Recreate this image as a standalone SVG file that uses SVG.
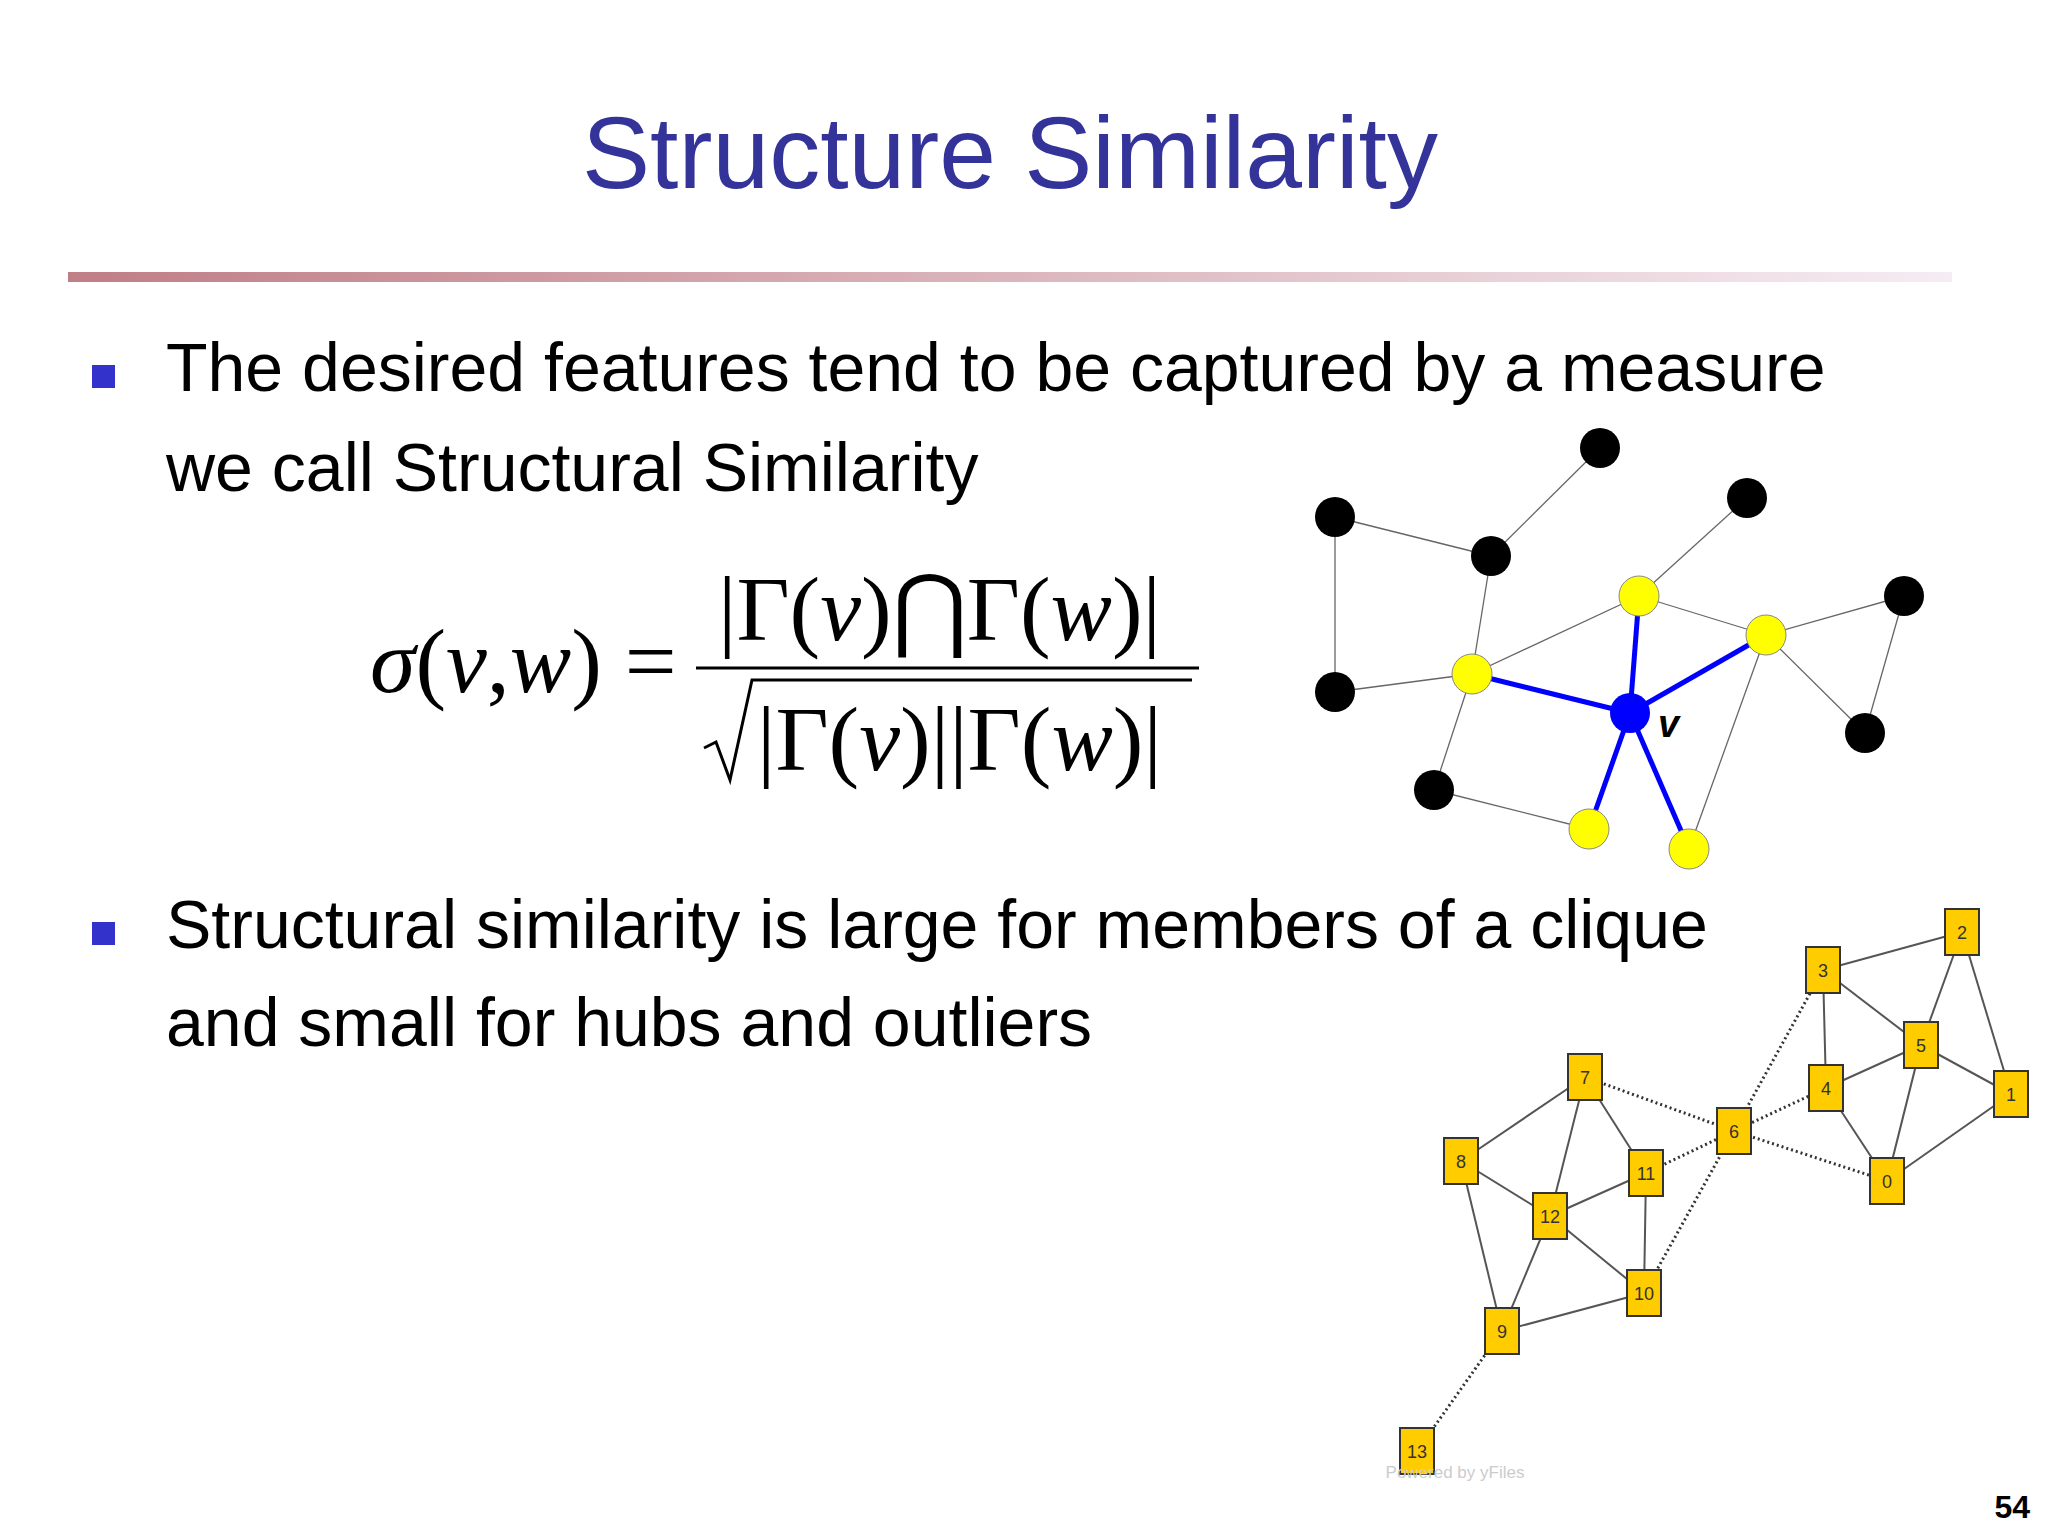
<svg xmlns="http://www.w3.org/2000/svg" width="2048" height="1536" viewBox="0 0 2048 1536">
<defs>
<linearGradient id="bar" x1="0" x2="1" y1="0" y2="0"><stop offset="0" stop-color="#c07e86"/><stop offset="1" stop-color="#f6ecf3"/></linearGradient>
<style>
.t{font-family:"Liberation Sans",Arial,sans-serif;fill:#000}
.m{font-family:"Liberation Serif","Times New Roman",serif;fill:#000;font-size:92px}
.e{stroke:#666;stroke-width:1.3;fill:none}
.b{stroke:#0000ff;stroke-width:5;fill:none}
.s{stroke:#555;stroke-width:2;fill:none}
.d{stroke:#333;stroke-width:3;stroke-dasharray:2 3;fill:none}
.k{fill:#000}
.y{fill:#ffff00;stroke:#888;stroke-width:1}
.q{fill:#ffcc00;stroke:#333;stroke-width:2}
.l{font-family:"Liberation Sans Narrow","Liberation Sans",sans-serif;font-size:18px;fill:#333;text-anchor:middle}
</style>
</defs>
<rect width="2048" height="1536" fill="#fff"/>
<text x="1010" y="188" text-anchor="middle" style="font-family:'Liberation Sans',Arial,sans-serif;font-size:102px;fill:#333399">Structure Similarity</text>
<rect x="68" y="272" width="1884" height="10" fill="url(#bar)"/>
<rect x="92" y="365" width="23" height="23" fill="#3333cc"/>
<text class="t" x="166" y="391" font-size="68">The desired features tend to be captured by a measure</text>
<text class="t" x="166" y="491" font-size="68">we call Structural Similarity</text>
<rect x="92" y="922" width="23" height="23" fill="#3333cc"/>
<text class="t" x="166" y="948" font-size="68">Structural similarity is large for members of a clique</text>
<text class="t" x="166" y="1046" font-size="68">and small for hubs and outliers</text>
<g id="formula">
<text class="m" x="370" y="692"><tspan font-style="italic">σ</tspan>(<tspan font-style="italic">v</tspan>,<tspan font-style="italic">w</tspan>) =</text>
<text class="m" x="718" y="640">|Γ(<tspan font-style="italic">v</tspan>)⋂Γ(<tspan font-style="italic">w</tspan>)|</text>
<line x1="696" y1="668" x2="1199" y2="668" stroke="#000" stroke-width="3"/>
<polyline points="704,748 716,742 730,780 752,680 1192,680" fill="none" stroke="#000" stroke-width="3"/>
<text class="m" x="757" y="770">|Γ(<tspan font-style="italic">v</tspan>)||Γ(<tspan font-style="italic">w</tspan>)|</text>
</g>
<g id="connectors-circles">
<line class="e" x1="1600" y1="448" x2="1491" y2="556"/>
<line class="e" x1="1335" y1="517" x2="1491" y2="556"/>
<line class="e" x1="1335" y1="517" x2="1335" y2="692"/>
<line class="e" x1="1491" y1="556" x2="1472" y2="674"/>
<line class="e" x1="1747" y1="498" x2="1639" y2="596"/>
<line class="e" x1="1639" y1="596" x2="1472" y2="674"/>
<line class="e" x1="1639" y1="596" x2="1766" y2="635"/>
<line class="e" x1="1766" y1="635" x2="1904" y2="596"/>
<line class="e" x1="1904" y1="596" x2="1865" y2="733"/>
<line class="e" x1="1766" y1="635" x2="1865" y2="733"/>
<line class="e" x1="1766" y1="635" x2="1689" y2="849"/>
<line class="e" x1="1472" y1="674" x2="1335" y2="692"/>
<line class="e" x1="1472" y1="674" x2="1434" y2="790"/>
<line class="e" x1="1434" y1="790" x2="1589" y2="829"/>
<line class="b" x1="1630" y1="713" x2="1472" y2="674"/>
<line class="b" x1="1630" y1="713" x2="1639" y2="596"/>
<line class="b" x1="1630" y1="713" x2="1766" y2="635"/>
<line class="b" x1="1630" y1="713" x2="1589" y2="829"/>
<line class="b" x1="1630" y1="713" x2="1689" y2="849"/>
</g>
<g id="c-A"><circle class="k" cx="1600" cy="448" r="20"/></g>
<g id="c-B"><circle class="k" cx="1335" cy="517" r="20"/></g>
<g id="c-C"><circle class="k" cx="1491" cy="556" r="20"/></g>
<g id="c-D"><circle class="k" cx="1747" cy="498" r="20"/></g>
<g id="c-E"><circle class="y" cx="1639" cy="596" r="20"/></g>
<g id="c-F"><circle class="y" cx="1766" cy="635" r="20"/></g>
<g id="c-G"><circle class="k" cx="1904" cy="596" r="20"/></g>
<g id="c-H"><circle class="k" cx="1335" cy="692" r="20"/></g>
<g id="c-I"><circle class="y" cx="1472" cy="674" r="20"/></g>
<g id="c-V"><circle cx="1630" cy="713" r="20" fill="#0000ff"/><text x="1658" y="737" style="font-family:'Liberation Sans',sans-serif;font-weight:bold;font-style:italic;font-size:38px">v</text></g>
<g id="c-J"><circle class="k" cx="1865" cy="733" r="20"/></g>
<g id="c-K"><circle class="k" cx="1434" cy="790" r="20"/></g>
<g id="c-L"><circle class="y" cx="1589" cy="829" r="20"/></g>
<g id="c-M"><circle class="y" cx="1689" cy="849" r="20"/></g>
<g id="connectors-squares">
<line class="s" x1="1823" y1="970" x2="1962" y2="932"/>
<line class="s" x1="1823" y1="970" x2="1921" y2="1045"/>
<line class="s" x1="1823" y1="970" x2="1826" y2="1088"/>
<line class="s" x1="1962" y1="932" x2="1921" y2="1045"/>
<line class="s" x1="1962" y1="932" x2="2011" y2="1094"/>
<line class="s" x1="1921" y1="1045" x2="1826" y2="1088"/>
<line class="s" x1="1921" y1="1045" x2="2011" y2="1094"/>
<line class="s" x1="1921" y1="1045" x2="1887" y2="1181"/>
<line class="s" x1="1826" y1="1088" x2="1887" y2="1181"/>
<line class="s" x1="1887" y1="1181" x2="2011" y2="1094"/>
<line class="s" x1="1585" y1="1077" x2="1461" y2="1161"/>
<line class="s" x1="1585" y1="1077" x2="1550" y2="1216"/>
<line class="s" x1="1585" y1="1077" x2="1646" y2="1173"/>
<line class="s" x1="1461" y1="1161" x2="1550" y2="1216"/>
<line class="s" x1="1461" y1="1161" x2="1502" y2="1331"/>
<line class="s" x1="1550" y1="1216" x2="1646" y2="1173"/>
<line class="s" x1="1550" y1="1216" x2="1644" y2="1293"/>
<line class="s" x1="1550" y1="1216" x2="1502" y2="1331"/>
<line class="s" x1="1646" y1="1173" x2="1644" y2="1293"/>
<line class="s" x1="1502" y1="1331" x2="1644" y2="1293"/>
<line class="d" x1="1585" y1="1077" x2="1734" y2="1131"/>
<line class="d" x1="1734" y1="1131" x2="1823" y2="970"/>
<line class="d" x1="1734" y1="1131" x2="1826" y2="1088"/>
<line class="d" x1="1734" y1="1131" x2="1887" y2="1181"/>
<line class="d" x1="1734" y1="1131" x2="1646" y2="1173"/>
<line class="d" x1="1734" y1="1131" x2="1644" y2="1293"/>
<line class="d" x1="1502" y1="1331" x2="1417" y2="1451"/>
</g>
<g id="n0"><rect class="q" x="1870" y="1158" width="34" height="46"/><text class="l" x="1887" y="1188">0</text></g>
<g id="n1"><rect class="q" x="1994" y="1071" width="34" height="46"/><text class="l" x="2011" y="1101">1</text></g>
<g id="n2"><rect class="q" x="1945" y="909" width="34" height="46"/><text class="l" x="1962" y="939">2</text></g>
<g id="n3"><rect class="q" x="1806" y="947" width="34" height="46"/><text class="l" x="1823" y="977">3</text></g>
<g id="n4"><rect class="q" x="1809" y="1065" width="34" height="46"/><text class="l" x="1826" y="1095">4</text></g>
<g id="n5"><rect class="q" x="1904" y="1022" width="34" height="46"/><text class="l" x="1921" y="1052">5</text></g>
<g id="n6"><rect class="q" x="1717" y="1108" width="34" height="46"/><text class="l" x="1734" y="1138">6</text></g>
<g id="n7"><rect class="q" x="1568" y="1054" width="34" height="46"/><text class="l" x="1585" y="1084">7</text></g>
<g id="n8"><rect class="q" x="1444" y="1138" width="34" height="46"/><text class="l" x="1461" y="1168">8</text></g>
<g id="n9"><rect class="q" x="1485" y="1308" width="34" height="46"/><text class="l" x="1502" y="1338">9</text></g>
<g id="n10"><rect class="q" x="1627" y="1270" width="34" height="46"/><text class="l" x="1644" y="1300">10</text></g>
<g id="n11"><rect class="q" x="1629" y="1150" width="34" height="46"/><text class="l" x="1646" y="1180">11</text></g>
<g id="n12"><rect class="q" x="1533" y="1193" width="34" height="46"/><text class="l" x="1550" y="1223">12</text></g>
<g id="n13"><rect class="q" x="1400" y="1428" width="34" height="46"/><text class="l" x="1417" y="1458">13</text></g>
<text x="1455" y="1478" text-anchor="middle" style="font-family:'Liberation Sans Narrow','Liberation Sans',sans-serif;font-size:17px;fill:#ccc">Powered by yFiles</text>
<text x="2030" y="1518" text-anchor="end" style="font-family:'Liberation Sans',Arial,sans-serif;font-weight:bold;font-size:32px">54</text>
</svg>
